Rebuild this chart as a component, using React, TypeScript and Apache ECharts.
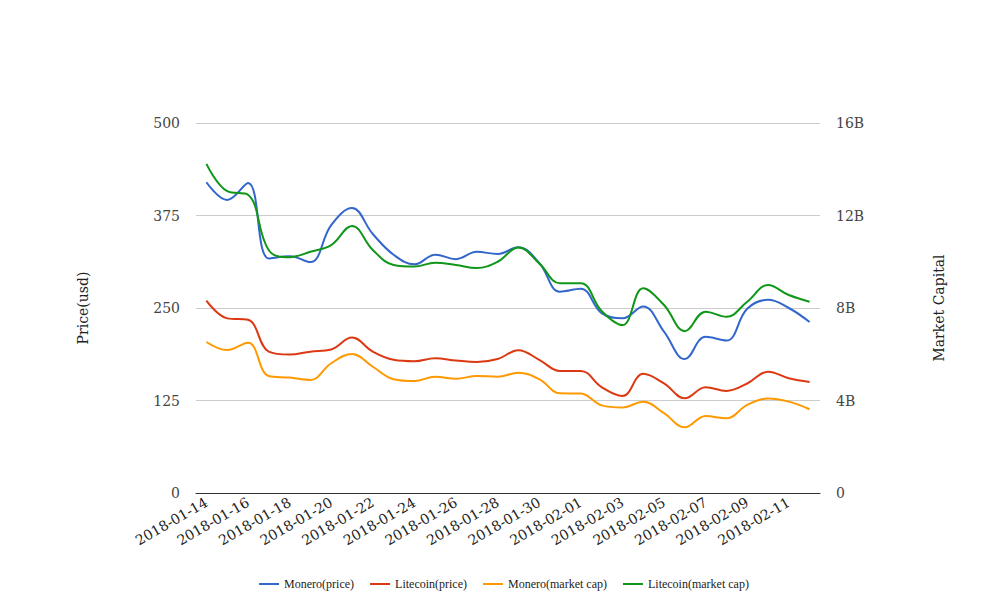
import React, { useEffect, useRef } from "react";
import * as echarts from "echarts";

const dates: string[] = [
  "2018-01-14", "2018-01-15", "2018-01-16", "2018-01-17", "2018-01-18", "2018-01-19",
  "2018-01-20", "2018-01-21", "2018-01-22", "2018-01-23", "2018-01-24", "2018-01-25",
  "2018-01-26", "2018-01-27", "2018-01-28", "2018-01-29", "2018-01-30", "2018-01-31",
  "2018-02-01", "2018-02-02", "2018-02-03", "2018-02-04", "2018-02-05", "2018-02-06",
  "2018-02-07", "2018-02-08", "2018-02-09", "2018-02-10", "2018-02-11", "2018-02-12",
];

const moneroPrice: number[] = [
  420, 396, 419, 317, 320, 312, 362, 385, 350, 322, 309, 322, 316, 326, 323,
  332, 311, 272, 276, 243, 236, 252, 218, 181, 211, 206, 249, 261, 250, 231,
];

const litecoinPrice: number[] = [
  260, 236, 234, 191, 187, 191, 194, 210, 191, 180, 178, 182, 179, 177, 181,
  193, 180, 165, 165, 143, 131, 161, 148, 128, 143, 138, 148, 164, 155, 150,
];

const moneroCap: number[] = [
  6.53e9, 6.18e9, 6.5e9, 5.06e9, 4.99e9, 4.89e9, 5.61e9, 6.01e9, 5.46e9, 4.92e9,
  4.84e9, 5.03e9, 4.94e9, 5.06e9, 5.03e9, 5.2e9, 4.92e9, 4.31e9, 4.3e9, 3.79e9,
  3.7e9, 3.95e9, 3.45e9, 2.84e9, 3.33e9, 3.23e9, 3.81e9, 4.09e9, 3.95e9, 3.62e9,
];

const litecoinCap: number[] = [
  14.23e9, 13.05e9, 12.9e9, 10.5e9, 10.2e9, 10.43e9, 10.72e9, 11.55e9, 10.51e9, 9.86e9,
  9.79e9, 9.96e9, 9.86e9, 9.73e9, 10.0e9, 10.62e9, 9.93e9, 9.07e9, 9.07e9, 7.87e9,
  7.26e9, 8.85e9, 8.13e9, 7.0e9, 7.84e9, 7.62e9, 8.27e9, 8.99e9, 8.56e9, 8.27e9,
];

const seriesNames: string[] = [
  "Monero(price)",
  "Litecoin(price)",
  "Monero(market cap)",
  "Litecoin(market cap)",
];
const colors: string[] = ["#3366cc", "#dc3912", "#ff9900", "#109618"];

const FONT = "'DejaVu Serif'";
const LEGEND_FONT = "'Liberation Serif'";

export default function App() {
  const ref = useRef<HTMLDivElement>(null);
  useEffect(() => {
    if (!ref.current) return;
    const chart = echarts.init(ref.current, null, { renderer: "svg" });
    const data = [moneroPrice, litecoinPrice, moneroCap, litecoinCap];
    chart.setOption({
      animation: false,
      color: colors,
      textStyle: { fontFamily: FONT },
      grid: { left: 188, right: 180, top: 115, bottom: 115, containLabel: false },
      legend: {
        top: 565,
        left: "center",
        icon: "rect",
        itemWidth: 20,
        itemHeight: 2,
        itemGap: 16,
        textStyle: { fontFamily: LEGEND_FONT, fontSize: 12, color: "#222" },
        data: seriesNames,
      },
      xAxis: {
        type: "category",
        data: dates,
        boundaryGap: true,
        axisLine: { lineStyle: { color: "#333", width: 1 } },
        axisTick: { show: false },
        axisLabel: {
          interval: 1,
          rotate: 30,
          fontFamily: FONT,
          fontSize: 14,
          color: "#222",
          margin: 8,
        },
        splitLine: { show: false },
      },
      yAxis: [
        {
          type: "value",
          min: 0,
          max: 500,
          interval: 125,
          position: "left",
          name: "Price(usd)",
          nameLocation: "middle",
          nameRotate: 90,
          nameGap: 106,
          nameTextStyle: { fontFamily: FONT, fontSize: 14, color: "#222" },
          axisLine: { show: false },
          axisTick: { show: false },
          axisLabel: { fontFamily: FONT, fontSize: 14, color: "#444", margin: 16 },
          splitLine: { lineStyle: { color: "#cccccc" } },
        },
        {
          type: "value",
          min: 0,
          max: 16e9,
          interval: 4e9,
          position: "right",
          name: "Market Capital",
          nameLocation: "middle",
          nameRotate: 90,
          nameGap: 112,
          nameTextStyle: { fontFamily: FONT, fontSize: 14, color: "#222" },
          axisLine: { show: false },
          axisTick: { show: false },
          axisLabel: {
            fontFamily: FONT,
            fontSize: 14,
            color: "#444",
            margin: 16,
            formatter: (v: number) => (v === 0 ? "0" : v / 1e9 + "B"),
          },
          splitLine: { show: false },
        },
      ],
      series: seriesNames.map((name, i) => ({
        name,
        type: "line",
        yAxisIndex: i < 2 ? 0 : 1,
        data: data[i],
        smooth: 0.4,
        symbol: "none",
        lineStyle: { width: 2, color: colors[i] },
        itemStyle: { color: colors[i] },
      })),
    });
    return () => chart.dispose();
  }, []);
  return <div ref={ref} style={{ width: 992, height: 600 }} />;
}
